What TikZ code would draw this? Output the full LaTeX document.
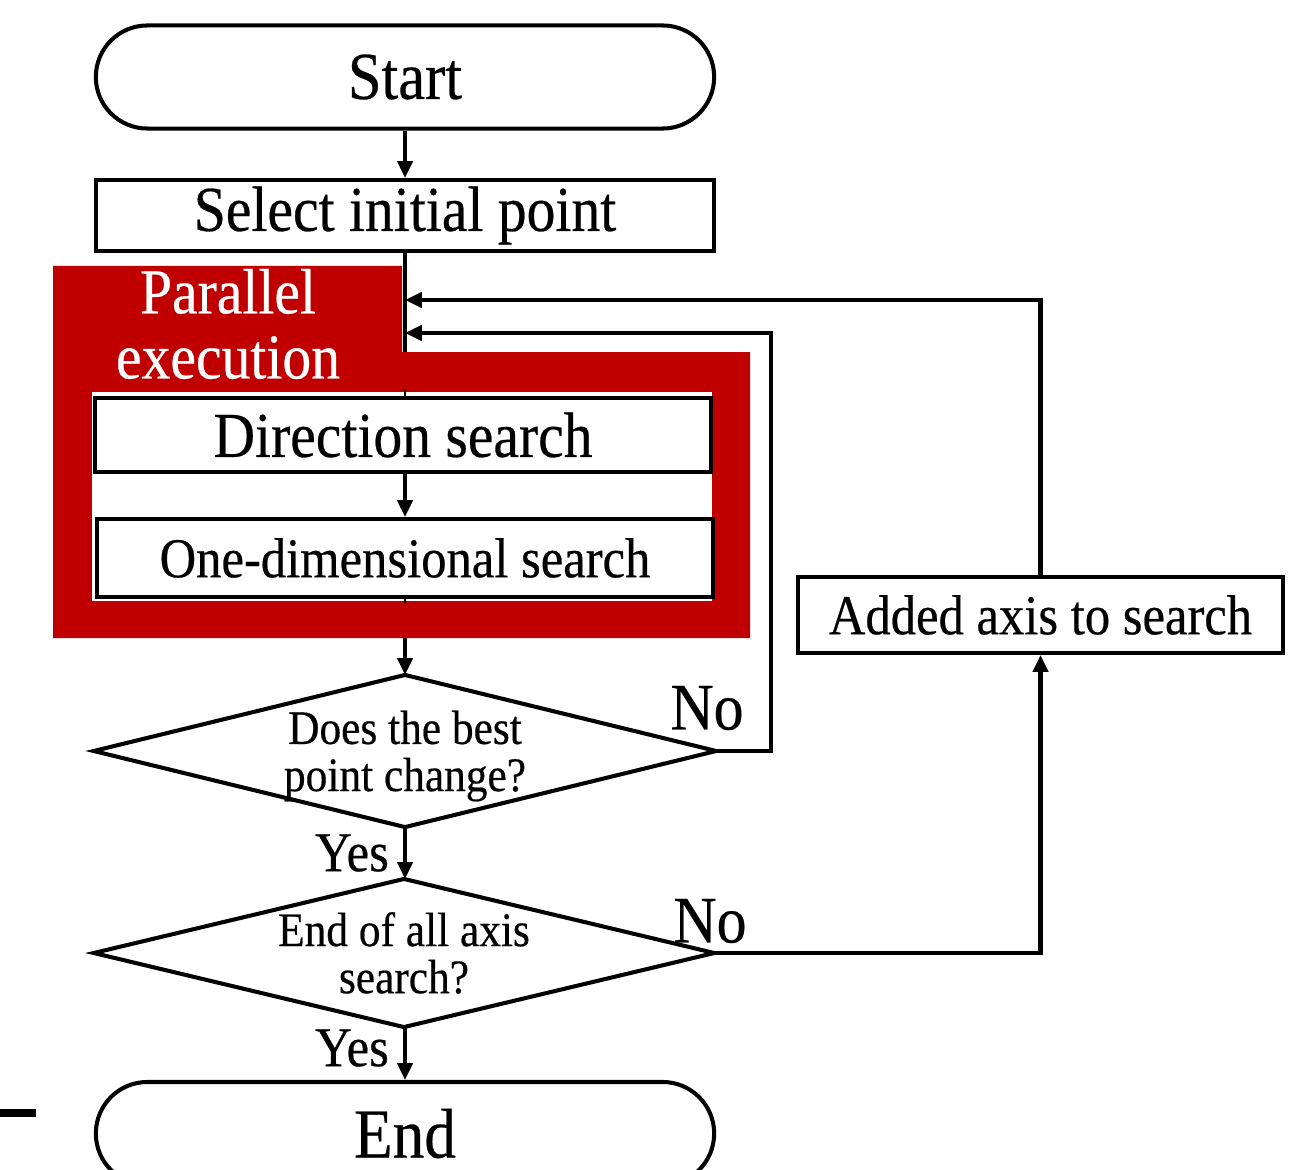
\documentclass[tikz,border=0pt]{standalone}
\usepackage{fontspec}
\setmainfont{Liberation Serif}[FakeStretch=0.9,FakeBold=0.4]
\usetikzlibrary{shapes.misc,arrows.meta}
\definecolor{panelred}{RGB}{192,0,0}
\pgfdeclarelayer{wires}
\pgfdeclarelayer{panel}
\pgfsetlayers{wires,panel,main}
\begin{document}
\begin{tikzpicture}[x=0.01cm,y=-0.01cm,line width=1.15pt,
  term/.style={draw,rounded rectangle,minimum width=6.18cm,minimum height=1.03cm,fill=white,inner sep=0pt},
  procbox/.style={draw,rectangle,fill=white,inner sep=0pt},
  decision/.style={rectangle,inner sep=0pt},
  dtext/.style={inner sep=0pt,align=center,font=\fontsize{13.7}{13.4}\selectfont},
  wire/.style={line width=1.15pt},
  flow/.style={wire,-{Triangle[length=4.8pt,width=4.3pt]}},
  lbl/.style={inner sep=0pt}]
\useasboundingbox (0,0) rectangle (1315,1170);

% main column
\node[term,font=\fontsize{19.1}{20}\selectfont] (start) at (405,77) {Start};
\node[procbox,minimum width=6.18cm,minimum height=0.71cm,font=\fontsize{18.2}{20}\selectfont] (init) at (405,215.5) {Select initial point};
\node[procbox,minimum width=6.15cm,minimum height=0.74cm,font=\fontsize{18.2}{20}\selectfont] (dir) at (403,435) {Direction search};
\node[procbox,minimum width=6.15cm,minimum height=0.78cm,font=\fontsize{16}{18}\selectfont] (oned) at (405,558) {One-dimensional search};

\node[decision,minimum width=6.18cm,minimum height=1.48cm] (chg) at (405,751) {};
\draw (chg.west) -- (chg.north) -- (chg.east) -- (chg.south) -- cycle;
\node[dtext] (chgtext) at (405,756) {Does the best\\point change?};

\node[decision,minimum width=6.16cm,minimum height=1.44cm] (axes) at (404,953) {};
\draw (axes.west) -- (axes.north) -- (axes.east) -- (axes.south) -- cycle;
\node[dtext] (axestext) at (404,953) {End of all axis\\search?};

\node[term,font=\fontsize{20}{22}\selectfont] (end) at (405,1133.5) {End};

% side branch
\node[procbox,minimum width=4.85cm,minimum height=0.76cm,font=\fontsize{16}{18}\selectfont] (add) at (1040.5,615) {Added axis to search};

% points where the loops rejoin the main line
\coordinate (j1) at (405,300);
\coordinate (j2) at (405,333);

% parallel execution panel
\begin{pgfonlayer}{panel}
\fill[panelred] (53,266) -- (402,266) -- (402,352) -- (750,352) -- (750,638) -- (53,638) -- cycle;
\fill[white] (92,392) rectangle (712,601);
\node[lbl,text=white,align=center,font=\fontsize{18.2}{18.5}\selectfont] (par) at (228,324) {Parallel\\execution};
\end{pgfonlayer}

% connectors running under the panel
\begin{pgfonlayer}{wires}
\draw[wire] (init.south) -- (dir.north -| init.south);
\draw[flow] (oned.south) -- (chg.north);
\end{pgfonlayer}
\draw (dir.north -| init.south) -- ++(0,-7);
\draw (oned.south) -- ++(0,5);

% connectors
\draw[flow] (start.south) -- (init.north);
\draw[flow] (dir.south -| oned.north) -- (oned.north);
\draw[flow] (chg.south) -- (chg.south |- axes.north);
\draw[flow] (chg.south |- axes.south) -- (chg.south |- end.north);
\draw[flow] (chg.east) -- ++(55,0) |- (j2);
\draw[flow] (add.north) |- (j1);
\draw[flow] (axes.east) -| (add.south);

% branch labels
\node[lbl,font=\fontsize{18.9}{20}\selectfont] (no1) at (707,708) {No};
\node[lbl,font=\fontsize{18.9}{20}\selectfont] (no2) at (710,921) {No};
\node[lbl,font=\fontsize{16}{18}\selectfont] (yes1) at (352,853) {Yes};
\node[lbl,font=\fontsize{16}{18}\selectfont] (yes2) at (352,1048) {Yes};

% edge mark at the lower left
\fill (0,1109) rectangle (36,1117);
\end{tikzpicture}
\end{document}
